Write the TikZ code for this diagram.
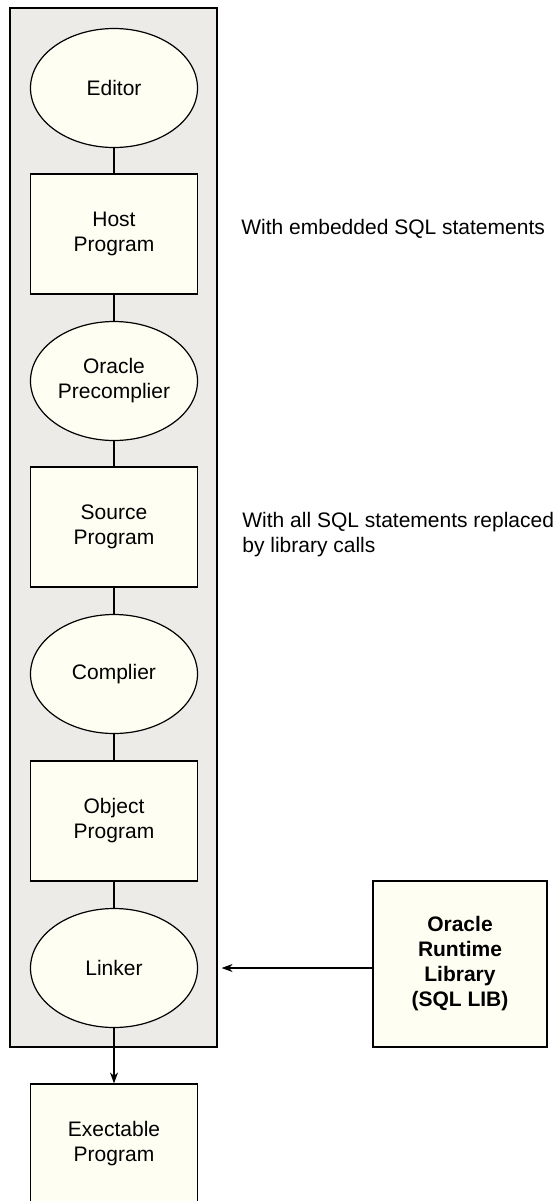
\documentclass[tikz,border=0pt]{standalone}
\usepackage{fontspec}
\setmainfont{Liberation Sans}
\usetikzlibrary{shapes.geometric,arrows.meta}
\definecolor{panel}{HTML}{ECEBE7}
\definecolor{ivory}{HTML}{FEFEF3}
\begin{document}
\begin{tikzpicture}[x=0.5pt,y=-0.5pt,
    every node/.style={font=\fontsize{10.5}{12.5}\selectfont},
    proc/.style={ellipse,draw,fill=ivory,line width=0.6pt,inner sep=0pt,
      minimum width=83.5pt,minimum height=59.5pt,align=center},
    prog/.style={rectangle,draw,fill=ivory,line width=0.6pt,inner sep=0pt,
      minimum width=83.5pt,minimum height=60pt,align=center},
    note/.style={anchor=west,inner sep=0pt,align=left}]
      \useasboundingbox (0,0) rectangle (559,1201);
      \draw
        (113.5,527.5) node[draw,fill=panel,line width=0.6pt,inner sep=0pt,
          minimum width=103.5pt,minimum height=519.5pt] (build){};
      \draw
        (114,88) node[proc] (edit){Editor}
        (114,234) node[prog] (host){Host\\Program}
        (114,381) node[proc] (pre){Oracle\\Precomplier}
        (114,527) node[prog] (src){Source\\Program}
        (114,674) node[proc] (comp){Complier}
        (114,821) node[prog] (obj){Object\\Program}
        (114,968) node[proc] (link){Linker}
        (114,1144) node[prog] (exe){Exectable\\Program}
        (460,964) node[prog,minimum width=87pt,minimum height=83pt,
          font=\fontsize{10.5}{12.5}\selectfont\bfseries] (lib){Oracle\\Runtime\\Library\\(SQL LIB)}
        (241,229) node[note] (hostnote){With embedded SQL statements}
        (242,535) node[note] (srcnote){With all SQL statements replaced\\by library calls};
      \begin{scope}[line width=0.6pt]
        \draw (edit) to (host);
        \draw (host) to (pre);
        \draw (pre) to (src);
        \draw (src) to (comp);
        \draw (comp) to (obj);
        \draw (obj) to (link);
        \draw[-{Stealth[length=5.5pt,width=4pt]}] (link) to (exe);
        \draw[-{Stealth[length=5.5pt,width=4pt]},shorten >=2pt]
          (lib.west |- link) to (build.east |- link);
      \end{scope}
    \end{tikzpicture}
\end{document}
